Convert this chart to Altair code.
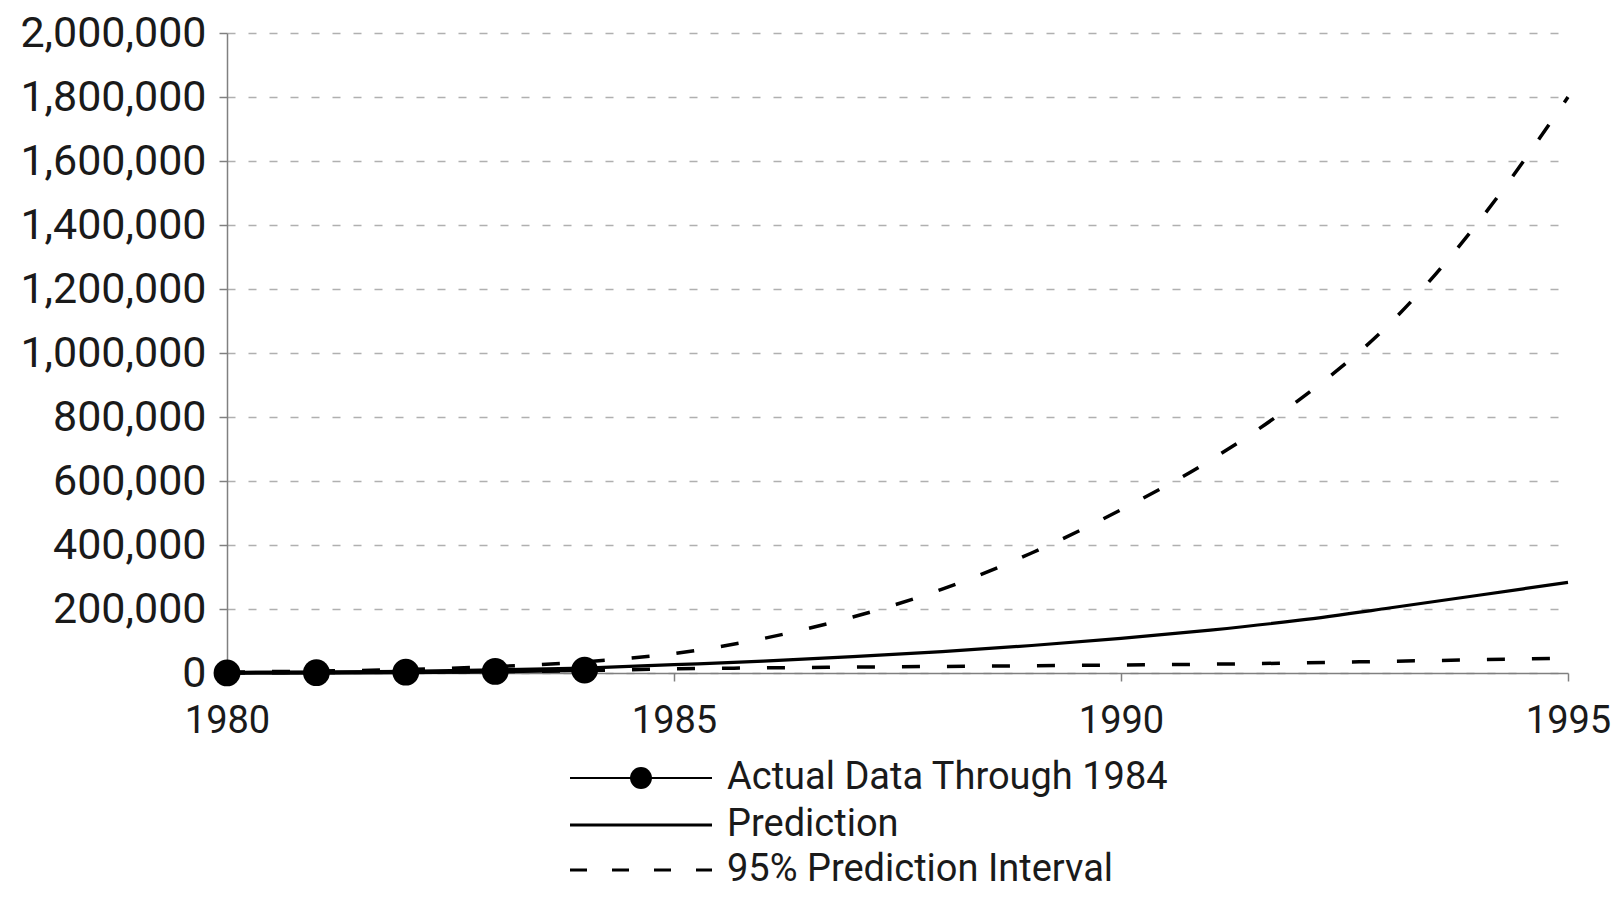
import altair as alt
import pandas as pd

# ---- data ----
years = list(range(1980, 1996))
prediction = [1500, 3000, 5500, 9500, 15500, 26000, 37000, 51000, 67000, 86000,
              108000, 134000, 165000, 203000, 243000, 283000]
upper_pi = [3000, 6000, 11000, 20000, 35000, 61000, 108000, 175000, 262000, 375000,
            510000, 665000, 855000, 1090000, 1410000, 1800000]
lower_pi = [700, 1500, 2700, 4500, 7500, 13000, 16000, 18500, 20500, 22500,
            25000, 27500, 31500, 36500, 41500, 46500]
actual_years = [1980, 1981, 1982, 1983, 1984]
actual_values = [300, 1000, 2500, 5000, 9000]

y_ticks = [0, 200000, 400000, 600000, 800000, 1000000, 1200000, 1400000,
           1600000, 1800000, 2000000]
x_ticks = [1980, 1985, 1990, 1995]
legend_labels = ["Actual Data Through 1984", "Prediction", "95% Prediction Interval"]

FONT = "Roboto"
W, H = 1341, 640

pred_df = pd.DataFrame({"Year": years, "Value": prediction})
upper_df = pd.DataFrame({"Year": years, "Value": upper_pi})
lower_df = pd.DataFrame({"Year": years, "Value": lower_pi})
actual_df = pd.DataFrame({"Year": actual_years, "Value": actual_values})


def xenc():
    return alt.X("Year:Q",
                 scale=alt.Scale(domain=[1980, 1995], nice=False, zero=False),
                 axis=alt.Axis(values=x_ticks, format="d", title=None, grid=False,
                               labelFontSize=38, labelPadding=21, tickSize=8,
                               labelFlush=False, labelLimit=400))


def yenc():
    return alt.Y("Value:Q",
                 scale=alt.Scale(domain=[0, 2000000], nice=False),
                 axis=alt.Axis(values=y_ticks, format=",.0f", title=None, grid=True,
                               gridDash=[8, 13], gridColor="#b0b0b0", gridWidth=1.5,
                               labelFontSize=43, labelPadding=13, tickSize=8,
                               labelLimit=400))


upper = alt.Chart(upper_df).mark_line(color="black", strokeWidth=3.5,
                                      strokeDash=[18, 27], interpolate="monotone").encode(x=xenc(), y=yenc())
lower = alt.Chart(lower_df).mark_line(color="black", strokeWidth=3.5,
                                      strokeDash=[18, 27], interpolate="monotone").encode(x=xenc(), y=yenc())
pred = alt.Chart(pred_df).mark_line(color="black", strokeWidth=3.2,
                                    interpolate="monotone").encode(x=xenc(), y=yenc())
act_line = alt.Chart(actual_df).mark_line(color="black", strokeWidth=4).encode(x=xenc(), y=yenc())
act_pts = alt.Chart(actual_df).mark_point(filled=True, color="black", opacity=1,
                                          size=720).encode(x=xenc(), y=yenc())

# ---- legend (below the plot) ----
one = pd.DataFrame({"k": [0]})
LX1, LX2, LT = 343, 485, 500
ROWS = [745, 792, 837]
leg = []
leg.append(alt.Chart(one).mark_rule(color="black", strokeWidth=2).encode(
    x=alt.value(LX1), x2=alt.value(LX2), y=alt.value(ROWS[0])))
leg.append(alt.Chart(one).mark_point(filled=True, color="black", opacity=1, size=480).encode(
    x=alt.value((LX1 + LX2) / 2), y=alt.value(ROWS[0])))
leg.append(alt.Chart(one).mark_rule(color="black", strokeWidth=3).encode(
    x=alt.value(LX1), x2=alt.value(LX2), y=alt.value(ROWS[1])))
leg.append(alt.Chart(one).mark_rule(color="black", strokeWidth=3, strokeDash=[17, 25]).encode(
    x=alt.value(LX1), x2=alt.value(LX2), y=alt.value(ROWS[2])))
for lbl, ry in zip(legend_labels, ROWS):
    leg.append(alt.Chart(one).mark_text(text=lbl, align="left", baseline="middle",
                                        font=FONT, fontSize=38, color="#1a1a1a").encode(
        x=alt.value(LT), y=alt.value(ry)))

chart = alt.layer(upper, lower, pred, act_line, act_pts, *leg).properties(
    width=W, height=H,
    autosize=alt.AutoSizeParams(type="none"),
    padding={"left": 219, "top": 25, "right": 44, "bottom": 217},
    background="white",
).configure_view(stroke=None).configure_axis(
    labelFont=FONT, labelColor="#1a1a1a", domainColor="#808080", domainWidth=1.5,
    tickColor="#808080", tickWidth=1.5,
)

chart.save("out.html", embed_options={"renderer": "svg", "actions": False})
